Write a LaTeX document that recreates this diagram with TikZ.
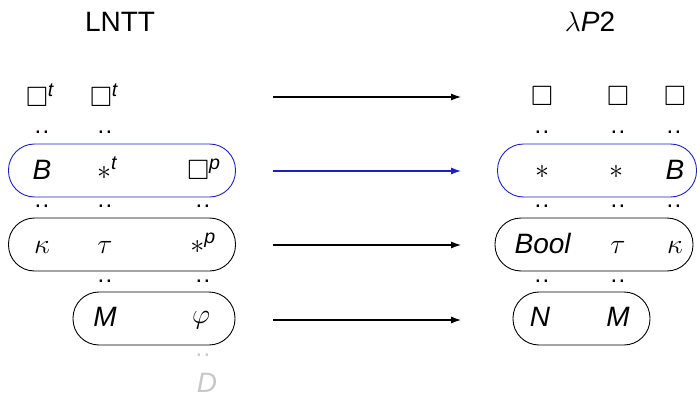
\RequirePackage{fix-cm}
\documentclass[tikz,border=0pt]{standalone}
\usepackage{amsmath,amssymb}
\usepackage{fontspec}
\setmainfont{Liberation Sans}
\usetikzlibrary{arrows.meta}
\definecolor{lblue}{RGB}{30,30,200}
\definecolor{lgray}{RGB}{200,200,200}
\newcommand{\supt}[1]{^{\text{\itshape #1}}}
\tikzset{
  lab/.style={inner sep=0pt, font=\fontsize{28}{34}\selectfont},
  dd/.style={inner sep=0pt, font=\fontsize{24}{28}\selectfont},
  pill/.style={draw, line width=0.9pt, rounded corners=26pt, minimum height=53pt, inner sep=0pt},
  arr/.style={line width=1.1pt, -{Latex[length=10pt,width=7pt]}},
}
\begin{document}
\begin{tikzpicture}[x=1pt,y=-1pt]
\useasboundingbox (0,0) rectangle (697,399);
% titles
\node[lab] (tl) at (120,22) {LNTT};
\node[lab] (tr) at (590,22) {$\lambda$\textit{P}2};
% boxes left
\node[pill, lblue, minimum width=227pt] (bl1) at (122,170.5) {};
\node[pill, minimum width=227pt] (bl2) at (122,244.5) {};
\node[pill, minimum width=162pt] (bl3) at (154,318.5) {};
% boxes right
\node[pill, lblue, minimum width=199pt] (br1) at (597,170.5) {};
\node[pill, minimum width=198pt] (br2) at (594,244.5) {};
\node[pill, minimum width=137pt] (br3) at (581.5,318.5) {};
% left labels
\node[lab] (l00) at (40,95) {$\square\supt{t}$};
\node[lab] (l01) at (104,95) {$\square\supt{t}$};
\node[lab] (l10) at (42,170) {\textit{B}};
\node[lab] (l11) at (107,168) {$\ast\supt{t}$};
\node[lab] (l12) at (204,169) {$\square\supt{p}$};
\node[lab] (l20) at (42,247) {$\kappa$};
\node[lab] (l21) at (105,247) {$\tau$};
\node[lab] (l22) at (203,243) {$\ast\supt{p}$};
\node[lab] (l31) at (105,317) {\textit{M}};
\node[lab] (l32) at (201,320) {$\varphi$};
\node[lab, lgray] (l42) at (207,383) {\textit{D}};
% right labels
\node[lab] (r00) at (542,96) {$\square$};
\node[lab] (r01) at (618,96) {$\square$};
\node[lab] (r02) at (675,96) {$\square$};
\node[lab] (r10) at (542,172) {$\ast$};
\node[lab] (r11) at (616,172) {$\ast$};
\node[lab] (r12) at (675,170) {\textit{B}};
\node[lab] (r20) at (543,243) {\textit{Bool}};
\node[lab] (r21) at (618,247) {$\tau$};
\node[lab] (r22) at (675,247) {$\kappa$};
\node[lab] (r30) at (540,317) {\textit{N}};
\node[lab] (r31) at (618,317) {\textit{M}};
% dots left
\node[dd] (dl00) at (42,132) {.\kern1.5pt.};
\node[dd] (dl01) at (105,132) {.\kern1.5pt.};
\node[dd] (dl10) at (42,206) {.\kern1.5pt.};
\node[dd] (dl11) at (105,206) {.\kern1.5pt.};
\node[dd] (dl12) at (203,206) {.\kern1.5pt.};
\node[dd] (dl21) at (105,281) {.\kern1.5pt.};
\node[dd] (dl22) at (203,281) {.\kern1.5pt.};
\node[dd, lgray] (dl32) at (203,355) {.\kern1.5pt.};
% dots right
\node[dd] (dr00) at (542,132) {.\kern1.5pt.};
\node[dd] (dr01) at (618,132) {.\kern1.5pt.};
\node[dd] (dr02) at (674,132) {.\kern1.5pt.};
\node[dd] (dr10) at (542,206) {.\kern1.5pt.};
\node[dd] (dr11) at (618,206) {.\kern1.5pt.};
\node[dd] (dr12) at (674,206) {.\kern1.5pt.};
\node[dd] (dr20) at (542,281) {.\kern1.5pt.};
\node[dd] (dr21) at (618,281) {.\kern1.5pt.};
% arrows
\coordinate (a0s) at (273,97);  \coordinate (a0e) at (461,97);
\coordinate (a1s) at (273,171); \coordinate (a1e) at (461,171);
\coordinate (a2s) at (273,245); \coordinate (a2e) at (461,245);
\coordinate (a3s) at (273,320); \coordinate (a3e) at (461,320);
\draw[arr] (a0s) -- (a0e);
\draw[arr, lblue] (a1s) -- (a1e);
\draw[arr] (a2s) -- (a2e);
\draw[arr] (a3s) -- (a3e);
\end{tikzpicture}
\end{document}
